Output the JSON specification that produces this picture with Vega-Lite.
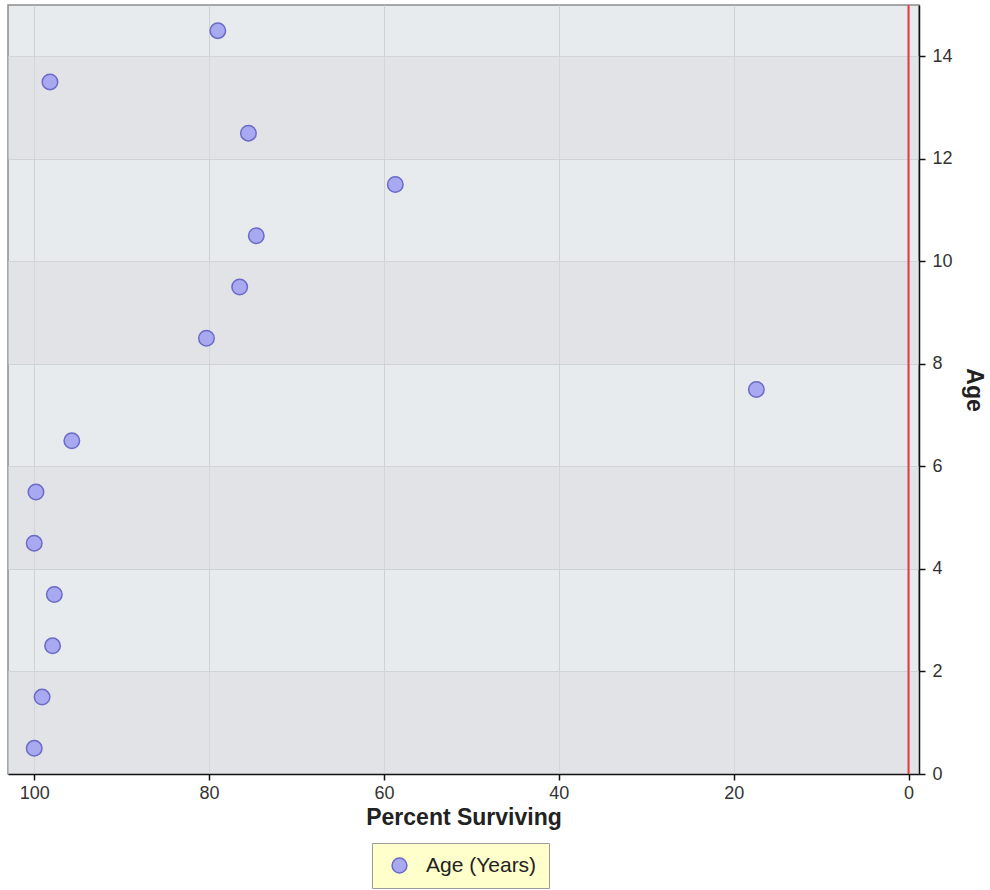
{
  "$schema": "https://vega.github.io/schema/vega-lite/v6.json",
  "autosize": "none",
  "width": 911,
  "height": 769,
  "padding": {"left": 8, "top": 5, "right": 71, "bottom": 116},
  "background": "white",
  "config": {
    "font": "Liberation Sans",
    "view": {"fill": "#e8ebee", "stroke": "#8c8c8c", "strokeWidth": 1.5},
    "axis": {
      "domainColor": "#111111",
      "domainWidth": 1.5,
      "tickColor": "#111111",
      "tickSize": 6,
      "tickWidth": 1.5,
      "labelFont": "Liberation Sans",
      "labelFontSize": 18,
      "labelColor": "#333333",
      "titleFont": "Liberation Sans",
      "titleFontSize": 23,
      "titleFontWeight": "bold",
      "titleColor": "#222222",
      "gridColor": "#cfd2d5",
      "gridWidth": 1
    }
  },
  "datasets": {
    "survival": [
      {"age": 0.5, "pct": 100, "series": "Age (Years)"},
      {"age": 1.5, "pct": 99.1, "series": "Age (Years)"},
      {"age": 2.5, "pct": 97.9, "series": "Age (Years)"},
      {"age": 3.5, "pct": 97.7, "series": "Age (Years)"},
      {"age": 4.5, "pct": 100, "series": "Age (Years)"},
      {"age": 5.5, "pct": 99.8, "series": "Age (Years)"},
      {"age": 6.5, "pct": 95.7, "series": "Age (Years)"},
      {"age": 7.5, "pct": 17.4, "series": "Age (Years)"},
      {"age": 8.5, "pct": 80.3, "series": "Age (Years)"},
      {"age": 9.5, "pct": 76.5, "series": "Age (Years)"},
      {"age": 10.5, "pct": 74.6, "series": "Age (Years)"},
      {"age": 11.5, "pct": 58.7, "series": "Age (Years)"},
      {"age": 12.5, "pct": 75.5, "series": "Age (Years)"},
      {"age": 13.5, "pct": 98.2, "series": "Age (Years)"},
      {"age": 14.5, "pct": 79.0, "series": "Age (Years)"}
    ],
    "bands": [
      {"y0": 0, "y1": 2},
      {"y0": 4, "y1": 6},
      {"y0": 8, "y1": 10},
      {"y0": 12, "y1": 14}
    ],
    "zero": [
      {"pct": 0}
    ]
  },
  "layer": [
    {
      "data": {"name": "bands"},
      "mark": {"type": "rect", "color": "#dadbde", "opacity": 0.5},
      "encoding": {
        "x": {"datum": 103, "type": "quantitative"},
        "x2": {"datum": -1.2},
        "y": {"field": "y0", "type": "quantitative"},
        "y2": {"field": "y1"}
      }
    },
    {
      "data": {"name": "zero"},
      "mark": {"type": "rule", "color": "#e23c3c", "strokeWidth": 2},
      "encoding": {
        "x": {"field": "pct", "type": "quantitative"}
      }
    },
    {
      "data": {"name": "survival"},
      "mark": {"type": "point", "filled": true, "opacity": 1, "size": 240, "stroke": "#6a6ac8", "strokeWidth": 1.5},
      "encoding": {
        "x": {
          "field": "pct",
          "type": "quantitative",
          "title": "Percent Surviving",
          "scale": {"domain": [-1.2, 103], "reverse": true, "nice": false, "zero": false},
          "axis": {"values": [100, 80, 60, 40, 20, 0], "grid": true, "labelPadding": 4, "titlePadding": 4}
        },
        "y": {
          "field": "age",
          "type": "quantitative",
          "title": "Age",
          "scale": {"domain": [0, 15], "nice": false, "zero": false},
          "axis": {"orient": "right", "values": [0, 2, 4, 6, 8, 10, 12, 14], "grid": true, "labelPadding": 7, "titlePadding": 9}
        },
        "color": {
          "field": "series",
          "type": "nominal",
          "scale": {"domain": ["Age (Years)"], "range": ["#a9a9f2"]},
          "legend": {
            "title": null,
            "orient": "none",
            "legendX": 364,
            "legendY": 838,
            "fillColor": "#ffffcc",
            "strokeColor": "#9a9a9a",
            "padding": 12,
            "symbolOffset": 5,
            "symbolType": "circle",
            "symbolSize": 220,
            "symbolStrokeColor": "#6a6ac8",
            "symbolStrokeWidth": 1.5,
            "symbolFillColor": "#a9a9f2",
            "labelFont": "Liberation Sans",
            "labelFontSize": 21,
            "labelColor": "#222222",
            "labelOffset": 16
          }
        }
      }
    }
  ]
}
